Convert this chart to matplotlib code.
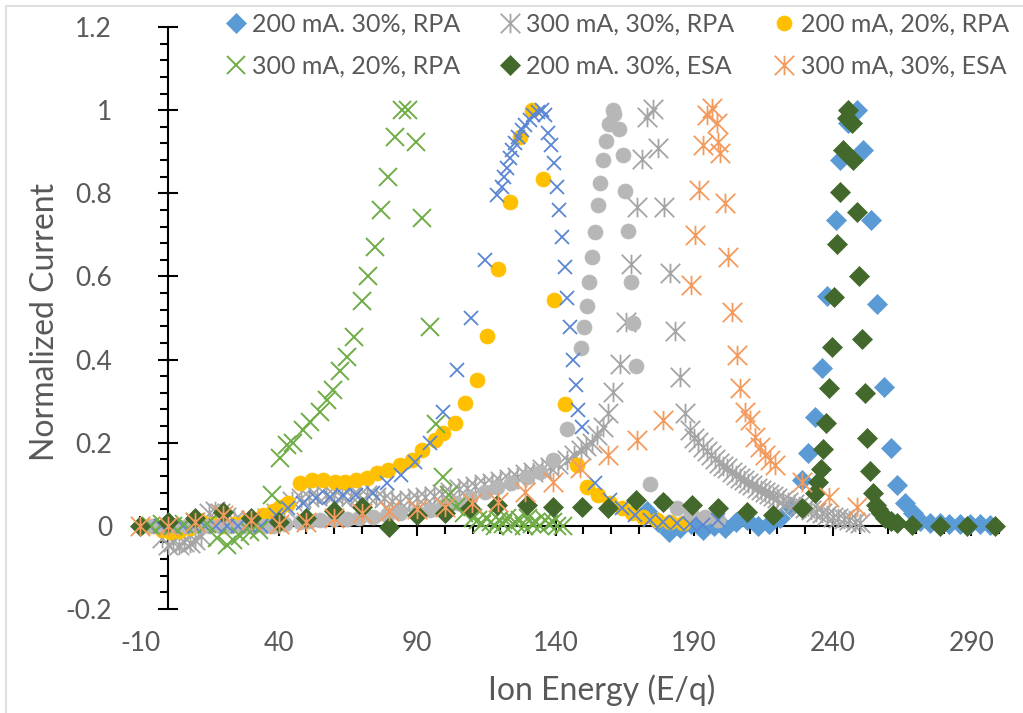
import numpy as np
import matplotlib
matplotlib.use('Agg')
import matplotlib.pyplot as plt
from matplotlib.path import Path
from matplotlib.ticker import FixedLocator, MultipleLocator, FuncFormatter
from matplotlib.patches import Rectangle

# ---------------- data ----------------
labels = ["200 mA. 30%, RPA", "300 mA, 30%, RPA", "200 mA, 20%, RPA",
          "300 mA, 20%, RPA", "200 mA. 30%, ESA", "300 mA, 30%, ESA"]

# 200 mA. 30%, RPA (blue diamonds)
a_x = [173, 177, 181, 185, 189, 193, 197, 201, 205, 209,
       213, 217, 221, 225, 228.9, 231, 233.6, 236.1, 237.9, 241.2,
       242.6, 245.5, 248.7, 251, 253.8, 256, 258.5, 261, 263.2, 266,
       269, 271.5, 275, 278.7, 282, 285.9, 289.5, 293, 296.7]
a_y = [0.035, 0.01, -0.015, -0.005, 0.005, -0.01, 0.0, -0.005, 0.01, 0.015,
       0.0, 0.005, 0.02, 0.045, 0.11, 0.175, 0.262, 0.38, 0.553, 0.736,
       0.88, 0.97, 1.0, 0.905, 0.736, 0.534, 0.335, 0.188, 0.099, 0.055,
       0.03, 0.012, 0.008, 0.006, 0.005, 0.005, 0.004, 0.004, 0.003]

# 300 mA, 30%, RPA (grey stars)
b_x = [-2, 0, 2, 4, 6, 8, 10, 12,
       15, 17, 19, 21, 24, 27, 30, 33, 36, 39,
       42, 45, 48, 51, 54, 57, 60, 63, 66, 69,
       72, 75, 78, 81, 84, 87, 90, 93, 96, 99,
       102, 105, 108, 111, 114, 117, 120, 123, 126, 129,
       132, 135, 138, 141, 144, 146.5, 149, 151, 153, 155,
       157, 158.8, 160.6, 163.2, 165.3, 167.1, 169.3, 171.1, 172.9, 175.1,
       176.9, 179, 181.2, 183, 184.8, 186.6, 188.4, 190, 191.5, 193,
       194.5, 196, 197.5, 199, 200.5, 202, 203.5, 205, 206.5, 208,
       209.5, 211, 212.5, 214, 215.5, 217, 218.5, 220, 222, 224,
       226, 228, 230, 232, 234, 236, 238, 240, 242, 244,
       246, 248, 250]
b_y = [-0.03, -0.045, -0.04, -0.045, -0.04, -0.042, -0.035, -0.025,
       0.03, 0.036, 0.03, 0.022, 0.015, 0.01, 0.015, 0.012, 0.02, 0.03,
       0.045, 0.06, 0.068, 0.07, 0.072, 0.075, 0.074, 0.07, 0.072, 0.075,
       0.075, 0.07, 0.066, 0.06, 0.058, 0.062, 0.066, 0.07, 0.072, 0.076,
       0.082, 0.088, 0.092, 0.096, 0.1, 0.104, 0.108, 0.112, 0.118, 0.124,
       0.13, 0.136, 0.142, 0.15, 0.158, 0.17, 0.183, 0.192, 0.199, 0.218,
       0.238, 0.271, 0.322, 0.39, 0.491, 0.63, 0.768, 0.883, 0.984, 1.003,
       0.91, 0.768, 0.609, 0.469, 0.358, 0.271, 0.231, 0.212, 0.202, 0.19,
       0.18, 0.17, 0.16, 0.152, 0.145, 0.138, 0.13, 0.123, 0.116, 0.11,
       0.104, 0.098, 0.092, 0.087, 0.082, 0.077, 0.072, 0.068, 0.062, 0.057,
       0.052, 0.047, 0.042, 0.038, 0.034, 0.03, 0.026, 0.022, 0.019, 0.016,
       0.013, 0.01, 0.008]

# 200 mA, 20%, RPA (yellow circles)
c_x = [-6, -2, 1, 4, 8, 12, 16, 20, 24, 28,
       31, 34.3, 38, 40.5, 43.5, 47.7, 52, 56, 60.3, 63.9,
       68, 71.8, 75.5, 79.4, 83.8, 88, 91.7, 96.4, 99.3, 103.6,
       107.2, 111.6, 115.2, 119.1, 123.5, 127, 131.4, 135.4, 139.4, 143.3,
       147.7, 151.3, 155.2, 159.6, 163.9, 167.5, 171.5, 176.5, 181.2, 186]
c_y = [0.0, -0.01, -0.015, -0.012, -0.005, 0.01, 0.005, 0.0, 0.005, 0.01,
       0.015, 0.026, 0.035, 0.045, 0.055, 0.103, 0.11, 0.11, 0.106, 0.106,
       0.11, 0.115, 0.127, 0.135, 0.147, 0.159, 0.183, 0.207, 0.224, 0.248,
       0.296, 0.35, 0.457, 0.618, 0.78, 0.936, 1.0, 0.835, 0.543, 0.293,
       0.147, 0.094, 0.075, 0.055, 0.043, 0.031, 0.022, 0.014, 0.01, 0.007]

# 300 mA, 20%, RPA (green x)
d_x = [-6, -2, 2, 6, 10, 14, 17.7, 21.3, 23.5, 26,
       29.6, 33, 37.5, 40.4, 43, 45.1, 48.7, 51.3, 54.9, 57.4,
       59.6, 62.1, 64.6, 67.1, 70, 72.2, 74.7, 77.1, 79.4, 82,
       84.5, 86.6, 89.5, 91.7, 94.6, 96.8, 99.3, 101.5, 104, 107,
       110, 112, 113.5, 115, 116.5, 118, 119.5, 121, 122.5, 124,
       125.5, 127, 128.5, 130, 131.5, 133, 134.5, 136, 137.5, 139,
       140.5, 142.5]
d_y = [0.0, 0.005, 0.0, 0.005, 0.01, 0.005, -0.03, -0.045, -0.035, -0.025,
       -0.015, -0.01, 0.075, 0.164, 0.195, 0.2, 0.231, 0.25, 0.274, 0.303,
       0.327, 0.373, 0.407, 0.455, 0.541, 0.6, 0.671, 0.76, 0.84, 0.936,
       1.0, 1.0, 0.924, 0.741, 0.479, 0.245, 0.118, 0.075, 0.045, 0.03,
       0.02, 0.015, 0.005, 0.02, 0.01, 0.0, 0.015, 0.005, 0.02, 0.0,
       0.01, 0.015, 0.0, 0.02, 0.005, 0.01, 0.0, 0.015, 0.005, 0.01,
       0.0, 0.0]

# 200 mA. 30%, ESA (dark green diamonds)
e_x = [-10, 0, 10, 20, 30, 40, 50, 60, 70, 80,
       90, 100, 109, 119, 129.6, 139, 149.5, 158.8, 169, 178.7,
       189.2, 198.6, 209, 218.4, 228.9, 233.6, 234.7, 235.7, 236.5, 237.5,
       238.6, 239.7, 240.4, 241.5, 242.6, 243.7, 245.1, 245.5, 246.9, 247.3,
       248.7, 249.5, 250.5, 251.6, 252.3, 253.4, 254.5, 255.5, 256.5, 257.5,
       259, 261, 263.2, 268.6, 278.7, 288.4, 298.6]
e_y = [0.0, 0.01, 0.02, 0.034, 0.02, 0.01, 0.02, 0.035, 0.046, -0.002,
       0.025, 0.03, 0.043, 0.05, 0.05, 0.046, 0.046, 0.043, 0.063, 0.058,
       0.05, 0.043, 0.034, 0.026, 0.043, 0.079, 0.106, 0.137, 0.185, 0.248,
       0.332, 0.431, 0.551, 0.679, 0.804, 0.905, 0.98, 1.0, 0.97, 0.88,
       0.755, 0.6, 0.45, 0.32, 0.212, 0.132, 0.079, 0.05, 0.04, 0.03,
       0.02, 0.012, 0.007, 0.002, 0.0, 0.0, 0.0]

# 300 mA, 30%, ESA (orange stars)
f_x = [-10, 0, 10, 20, 30, 40, 50, 60, 70, 80,
       90, 100, 109.7, 119.1, 128.9, 139, 148.7, 158.8, 169.3, 178.7,
       188.8, 190.3, 191.7, 193.1, 194.6, 196.4, 198.2, 198.6, 199.3, 201,
       202.2, 203.6, 205.4, 206.5, 208.3, 210.1, 212, 213.7, 215.5, 217.3,
       219, 228.9, 238.6, 248.7]
f_y = [0.0, 0.0, 0.01, 0.026, 0.015, 0.005, 0.01, 0.02, 0.03, 0.035,
       0.04, 0.045, 0.055, 0.058, 0.082, 0.106, 0.14, 0.171, 0.207, 0.255,
       0.58, 0.7, 0.808, 0.917, 0.989, 1.006, 0.97, 0.924, 0.897, 0.777,
       0.647, 0.515, 0.411, 0.332, 0.274, 0.255, 0.214, 0.19, 0.171, 0.159,
       0.147, 0.106, 0.07, 0.046]

# unlabeled series: blue x
g_x = [-6.5, -2.5, 1.5, 5.5, 9.5, 13.5, 17.5, 21.5, 25.5, 29.5,
       33.5, 39, 43.5, 48.9, 53.6, 58.5, 63.2, 68, 74, 79,
       84.3, 89.2, 94.6, 99.3, 104.3, 109.4, 114.4, 118.8, 120.6, 121.5,
       122.4, 123.5, 124.2, 125.3, 126.4, 127.8, 128.9, 130.7, 131.8, 133.6,
       135, 136, 137.2, 138.3, 139.4, 140.4, 141.2, 142.2, 143.3, 144,
       145.1, 146.2, 147.3, 148, 149.5, 154.2, 159.6, 163.9, 168.6, 174,
       178.7, 183.8, 188.4, 193, 198.6]
g_y = [0.0, 0.0, 0.0, 0.0, 0.0, 0.0, 0.0, 0.0, 0.0, 0.0,
       0.0, 0.026, 0.043, 0.055, 0.067, 0.07, 0.074, 0.074, 0.079, 0.103,
       0.123, 0.154, 0.2, 0.274, 0.375, 0.5, 0.64, 0.796, 0.816, 0.84,
       0.861, 0.885, 0.905, 0.921, 0.936, 0.953, 0.965, 0.977, 0.989, 0.996,
       1.0, 0.989, 0.946, 0.917, 0.873, 0.816, 0.76, 0.695, 0.623, 0.549,
       0.479, 0.4, 0.339, 0.279, 0.238, 0.103, 0.063, 0.043, 0.026, 0.014,
       0.01, 0.007, 0.005, 0.002, 0.014]

# unlabeled series: grey circles
h_x = [-5.4, -1, 3, 7, 11, 15, 19, 23, 27, 31,
       35, 38, 42.5, 47.7, 51, 55, 60, 64.6, 69, 74,
       79, 83.8, 90, 94.6, 99.3, 104, 109, 114.4, 119, 124,
       129.6, 134.3, 139, 144, 149.1, 150.2, 151.3, 152, 153, 154.2,
       155.2, 156, 157, 158.1, 159.2, 160.6, 161, 162.8, 164.3, 165,
       166, 167.1, 167.9, 169, 174, 178.7, 183.8, 189, 193.9, 198.6]
h_y = [0.0, 0.0, 0.0, 0.0, 0.0, 0.0, 0.0, 0.0, 0.0, 0.0,
       0.0, 0.0, 0.005, 0.01, 0.012, 0.014, 0.016, 0.016, 0.018, 0.022,
       0.026, 0.03, 0.034, 0.038, 0.048, 0.055, 0.067, 0.082, 0.094, 0.103,
       0.118, 0.13, 0.159, 0.233, 0.428, 0.479, 0.529, 0.587, 0.647, 0.707,
       0.772, 0.825, 0.881, 0.926, 0.967, 1.0, 0.99, 0.955, 0.893, 0.806,
       0.71, 0.587, 0.488, 0.385, 0.1, 0.058, 0.043, 0.031, 0.022, 0.014]

x_ticks = list(range(-10, 301, 50))
x_minor = list(range(-10, 301, 10))

# ---------------- figure ----------------
plt.rcParams['font.family'] = ['Lato', 'DejaVu Sans']
plt.rcParams['axes.unicode_minus'] = False

W, H = 1023, 713
fig = plt.figure(figsize=(W / 100, H / 100), dpi=100)


def fx(px):
    return px / W


def fy(py):
    return 1 - py / H


LEFT, RIGHT, TOP, BOTTOM = 140, 999, 27, 609
rect = [fx(LEFT), fy(BOTTOM), fx(RIGHT) - fx(LEFT), fy(TOP) - fy(BOTTOM)]
ax = fig.add_axes(rect)
ax.set_xlim(-10, 300)
ax.set_ylim(-0.2, 1.2)
ax.patch.set_visible(False)
for s in ['top', 'right']:
    ax.spines[s].set_visible(False)
ax.spines['left'].set_position(('data', 0))
ax.spines['bottom'].set_position(('data', 0))
for s in ['left', 'bottom']:
    ax.spines[s].set_linewidth(1.5)
    ax.spines[s].set_color('black')
    ax.spines[s].set_zorder(1)
ax.xaxis.set_major_locator(FixedLocator(x_ticks))
ax.xaxis.set_minor_locator(FixedLocator(x_minor))
ax.yaxis.set_major_locator(MultipleLocator(0.2))
ax.yaxis.set_minor_locator(MultipleLocator(0.04))
ax.tick_params(which='major', direction='inout', length=14, width=1.5,
               labelbottom=False, labelleft=False)
ax.tick_params(which='minor', direction='out', length=6, width=1.5)

# tick labels on a transparent overlay axes at the plot-area edges
lab = fig.add_axes(rect, sharex=ax, sharey=ax)
lab.set_zorder(ax.get_zorder() - 1)
lab.patch.set_visible(False)
for s in lab.spines.values():
    s.set_visible(False)
fmt = FuncFormatter(lambda v, p: f'{round(v, 2) + 0.0:g}')
lab.xaxis.set_major_formatter(fmt)
lab.yaxis.set_major_formatter(fmt)
lab.tick_params(which='both', length=0, labelsize=19, labelcolor='#595959')
lab.tick_params(axis='y', pad=20)
lab.tick_params(axis='x', pad=16)

# star marker (x with vertical bar)
star = Path([(-1, -1), (1, 1), (-1, 1), (1, -1), (0, -1), (0, 1)],
            [Path.MOVETO, Path.LINETO, Path.MOVETO, Path.LINETO,
             Path.MOVETO, Path.LINETO])

kw = dict(linestyle='none', clip_on=False)
hA, = ax.plot(a_x, a_y, marker='D', ms=10.5, mfc='#5B9BD5', mec='#5B9BD5',
              mew=0.5, label=labels[0], **kw)
hB, = ax.plot(b_x, b_y, marker=star, ms=14, mfc='none', mec='#A5A5A5',
              mew=1.3, label=labels[1], **kw)
hC, = ax.plot(c_x, c_y, marker='o', ms=10.8, mfc='#FFC000', mec='#FFC000',
              mew=0.5, label=labels[2], **kw)
ax.plot(h_x, h_y, marker='o', ms=10.8, mfc='#B7B7B7', mec='#B7B7B7',
        mew=0.5, **kw)
ax.plot(g_x, g_y, marker='x', ms=9.8, mfc='none', mec='#5A86D4',
        mew=1.3, **kw)
hD, = ax.plot(d_x, d_y, marker='x', ms=13.5, mfc='none', mec='#70AD47',
              mew=1.4, label=labels[3], **kw)
hE, = ax.plot(e_x, e_y, marker='D', ms=10.5, mfc='#43682B', mec='#43682B',
              mew=0.5, label=labels[4], **kw)
hF, = ax.plot(f_x, f_y, marker=star, ms=14, mfc='none', mec='#F39B5E',
              mew=1.3, label=labels[5], **kw)

leg = fig.legend(handles=[hA, hD, hB, hE, hC, hF],
                 labels=[labels[0], labels[3], labels[1], labels[4],
                         labels[2], labels[5]],
                 ncol=3, loc='upper left',
                 bbox_to_anchor=(fx(223), fy(13)),
                 frameon=False, fontsize=18, handlelength=1.0,
                 handletextpad=0.15, columnspacing=1.5, labelspacing=0.76,
                 borderpad=0, borderaxespad=0)
for t in leg.get_texts():
    t.set_color('#595959')

fig.text(fx(45), fy(322), 'Normalized Current', rotation=90, ha='center',
         va='center', fontsize=23, color='#595959')
fig.text(fx(602), fy(690), 'Ion Energy (E/q)', ha='center', va='center',
         fontsize=23, color='#595959')

fig.patches.append(Rectangle((fx(6), -0.1), 1.2, fy(6) + 0.1,
                             transform=fig.transFigure, fill=False,
                             ec='#D9D9D9', lw=1.2))

fig.savefig('out.png', dpi=100)
